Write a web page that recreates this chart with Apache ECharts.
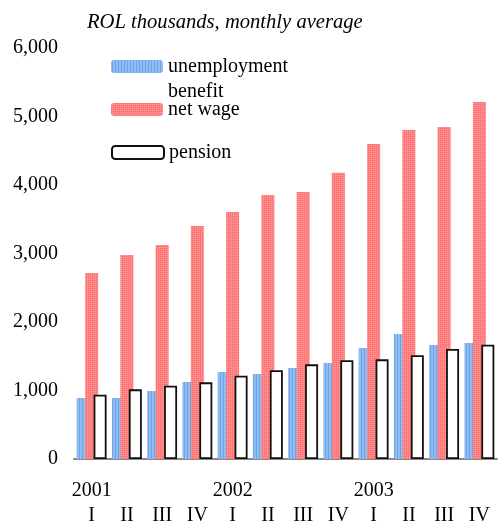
<!DOCTYPE html>
<html>
<head>
<meta charset="utf-8">
<script src="https://cdn.jsdelivr.net/npm/echarts@6/dist/echarts.min.js"></script>
<style>
  html, body { margin: 0; padding: 0; background: #fff; }
  #chart { width: 498px; height: 524px; }
</style>
</head>
<body>
<div id="chart"></div>
<script>
const quarters = ['I', 'II', 'III', 'IV', 'I', 'II', 'III', 'IV', 'I', 'II', 'III', 'IV']
const years = ['2001', '', '', '', '2002', '', '', '', '2003', '', '', '']
const unemploymentBenefit = [890, 890, 993, 1124, 1270, 1241, 1328, 1401, 1620, 1825, 1664, 1693]
const netWage = [2715, 2978, 3124, 3400, 3606, 3854, 3898, 4180, 4599, 4803, 4847, 5212]
const pension = [939, 1017, 1070, 1119, 1216, 1295, 1382, 1441, 1455, 1514, 1606, 1669]
const yTicks = { min: 0, max: 6000, step: 1000 }

const font = 'Liberation Serif'

// small dotted textures like the original
const makePattern = (w, h, base, dot, dots) => {
  const c = document.createElement('canvas')
  c.width = w
  c.height = h
  const ctx = c.getContext('2d')
  ctx.fillStyle = base
  ctx.fillRect(0, 0, w, h)
  ctx.fillStyle = dot
  dots.forEach(([x, y]) => ctx.fillRect(x, y, 1, 1))
  return { image: c, repeat: 'repeat' }
}

const bluePattern = makePattern(3, 2, '#8fbcf2', '#6fa3e6', [[1, 0], [1, 1]])
const redPattern = makePattern(4, 4, '#ff7878', '#ff9e9e', [[1, 1], [3, 1], [1, 3], [3, 3]])

const chart = echarts.init(document.getElementById('chart'))

const legendBase = {
  orient: 'vertical',
  selectedMode: false,
  padding: 0,
  itemWidth: 52,
  itemHeight: 13,
  textStyle: { fontFamily: font, fontSize: 20, color: '#000', lineHeight: 25 }
}

chart.setOption({
  animation: false,
  backgroundColor: '#fff',
  title: {
    text: 'ROL thousands, monthly average',
    left: 87,
    top: 12,
    padding: 0,
    textStyle: { fontFamily: font, fontSize: 20.6, fontStyle: 'italic', fontWeight: 'normal', color: '#000' }
  },
  legend: [
    Object.assign({}, legendBase, {
      left: 111, top: 29,
      data: ['unemployment benefit'],
      // empty first line so "unemployment" sits level with the swatch
      formatter: () => '\nunemployment\nbenefit'
    }),
    Object.assign({}, legendBase, { left: 111, top: 97, data: ['net wage'] }),
    Object.assign({}, legendBase, { left: 111, top: 140, data: ['pension'] })
  ],
  grid: { left: 74, right: 1, top: 48, bottom: 65, outerBoundsMode: 'none' },
  xAxis: {
    type: 'category',
    data: quarters,
    axisLine: { lineStyle: { color: '#888', width: 2 } },
    axisTick: { show: false },
    axisLabel: {
      interval: 0,
      margin: 19,
      fontFamily: font,
      fontSize: 20,
      color: '#000',
      lineHeight: 25,
      formatter: (v, i) => years[i] + '\n' + v
    }
  },
  yAxis: {
    type: 'value',
    min: yTicks.min,
    max: yTicks.max,
    interval: yTicks.step,
    splitLine: { show: false },
    axisLine: { show: false },
    axisTick: { show: false },
    axisLabel: {
      margin: 16,
      fontFamily: font,
      fontSize: 20,
      color: '#000',
      formatter: v => v.toLocaleString('en-US')
    }
  },
  series: [
    {
      name: 'unemployment benefit',
      type: 'bar',
      data: unemploymentBenefit,
      barWidth: 13,
      barGap: '-35%',
      itemStyle: { color: bluePattern }
    },
    {
      name: 'net wage',
      type: 'bar',
      data: netWage,
      barWidth: 13,
      barGap: '-35%',
      itemStyle: { color: redPattern }
    },
    {
      name: 'pension',
      type: 'bar',
      data: pension,
      barWidth: 13,
      barGap: '-35%',
      itemStyle: { color: '#fff', borderColor: '#111', borderWidth: 1.8 }
    }
  ]
})
</script>
</body>
</html>
